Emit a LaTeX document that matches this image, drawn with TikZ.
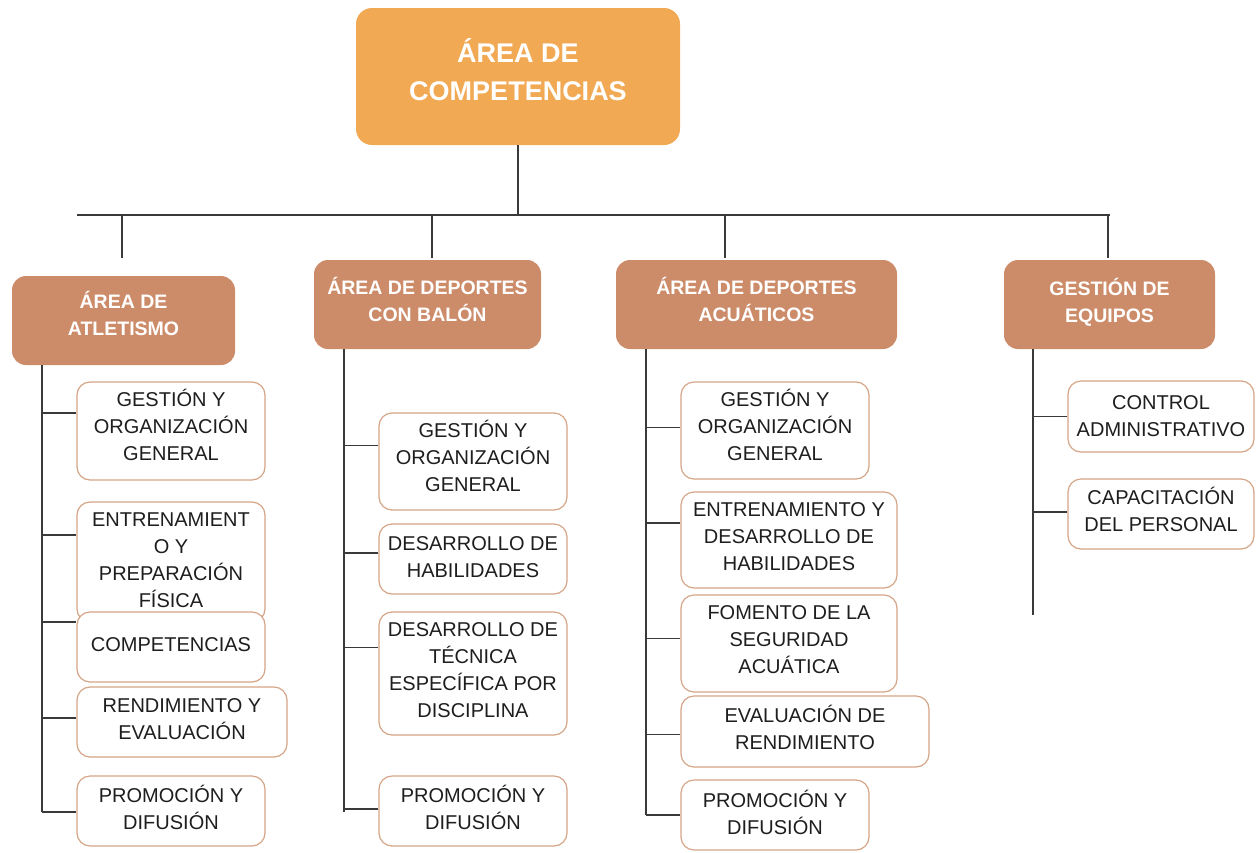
\documentclass[tikz,border=0pt]{standalone}
\usepackage{fontspec}
\setmainfont{Liberation Sans}
\definecolor{topc}{HTML}{F2A954}
\definecolor{headc}{HTML}{CD8C69}
\definecolor{bordc}{HTML}{D6A486}
\definecolor{linec}{HTML}{3A3A3A}
\definecolor{textc}{HTML}{1E1E1E}
\newcommand\liftby[1]{\rule[-#1pt]{0pt}{#1pt}}
\begin{document}
\begin{tikzpicture}[x=1pt,y=-1pt,
  topbox/.style={fill=topc, rounded corners=16pt, text=white, font=\fontsize{27}{38}\selectfont\bfseries, align=center, inner sep=0pt},
  headbox/.style={fill=headc, rounded corners=14pt, text=white, font=\fontsize{19.5}{27}\selectfont\bfseries, align=center, inner sep=0pt, minimum height=89pt},
  childbox/.style={draw=bordc, line width=1.2pt, fill=white, rounded corners=13pt, text=textc, font=\fontsize{20}{27}\selectfont, align=center, inner sep=0pt},
  link/.style={draw=linec, line width=1.6pt}]
\useasboundingbox (0,0) rectangle (1256,852);

% top
\node[topbox, minimum width=324pt, minimum height=137pt] (top) at (518,76.5) {ÁREA DE\\COMPETENCIAS\liftby{14}};

% headers
\node[headbox, minimum width=223pt] (h1) at (123.5,320.5) {ÁREA DE\\ATLETISMO\liftby{14}};
\node[headbox, minimum width=227pt] (h2) at (427.5,304.5) {ÁREA DE DEPORTES\\CON BALÓN\liftby{10}};
\node[headbox, minimum width=281pt] (h3) at (756.5,304.5) {ÁREA DE DEPORTES\\ACUÁTICOS\liftby{10}};
\node[headbox, minimum width=211pt] (h4) at (1109.5,304.5) {GESTIÓN DE\\EQUIPOS\liftby{8}};

% bus
\coordinate (busL) at (77,215);
\coordinate (busR) at (1110,215);
\draw[link] (top.south) -- (top.south |- busL);
\draw[link] (busL) -- (busR);
\draw[link] ([xshift=-1.5pt]h1.north |- busL) -- ([xshift=-1.5pt,yshift=18pt]h1.north);
\draw[link] ([xshift=4.5pt]h2.north |- busL) -- ([xshift=4.5pt,yshift=2pt]h2.north);
\draw[link] ([xshift=-31.5pt]h3.north |- busL) -- ([xshift=-31.5pt,yshift=2pt]h3.north);
\draw[link] ([xshift=-1.5pt]h4.north |- busL) -- ([xshift=-1.5pt,yshift=2pt]h4.north);

% trunks
\coordinate (t1) at (42,812);
\coordinate (t2) at (344,812);
\coordinate (t3) at (646,815);
\coordinate (t4) at (1033,615);
\draw[link] (h1.south -| t1) -- (t1);
\draw[link] (h2.south -| t2) -- (t2);
\draw[link] (h3.south -| t3) -- (t3);
\draw[link] (h4.south -| t4) -- (t4);

% column 1
\node[childbox, minimum width=188pt, minimum height=98pt] (b11) at (171,431) {GESTIÓN Y\\ORGANIZACIÓN\\GENERAL\liftby{12}};
\node[childbox, minimum width=188pt, minimum height=120pt] (b12) at (171,562) {ENTRENAMIENT\\O Y\\PREPARACIÓN\\FÍSICA\liftby{4}};
\node[childbox, minimum width=188pt, minimum height=70pt] (b13) at (171,647) {COMPETENCIAS\liftby{4}};
\node[childbox, minimum width=210pt, minimum height=70pt] (b14) at (182,722) {RENDIMIENTO Y\\EVALUACIÓN\liftby{6}};
\node[childbox, minimum width=188pt, minimum height=70pt] (b15) at (171,811) {PROMOCIÓN Y\\DIFUSIÓN\liftby{8}};
\draw[link] ([yshift=18pt]b11.west) -- ([yshift=18pt]b11.west -| t1);
\draw[link] ([yshift=27pt]b12.west) -- ([yshift=27pt]b12.west -| t1);
\draw[link] ([yshift=25pt]b13.west) -- ([yshift=25pt]b13.west -| t1);
\draw[link] ([yshift=4pt]b14.west) -- ([yshift=4pt]b14.west -| t1);
\draw[link] ([yshift=-1pt]b15.west) -- ([yshift=-1pt]b15.west -| t1);

% column 2
\node[childbox, minimum width=188pt, minimum height=97pt] (b21) at (473,461.5) {GESTIÓN Y\\ORGANIZACIÓN\\GENERAL\liftby{12}};
\node[childbox, minimum width=188pt, minimum height=70pt] (b22) at (473,559) {DESARROLLO DE\\HABILIDADES\liftby{4}};
\node[childbox, minimum width=188pt, minimum height=123pt] (b23) at (473,673.5) {DESARROLLO DE\\TÉCNICA\\ESPECÍFICA POR\\DISCIPLINA\liftby{6}};
\node[childbox, minimum width=188pt, minimum height=70pt] (b24) at (473,811) {PROMOCIÓN Y\\DIFUSIÓN\liftby{8}};
\draw[link] ([yshift=16pt]b21.west) -- ([yshift=16pt]b21.west -| t2);
\draw[link] ([yshift=6pt]b22.west) -- ([yshift=6pt]b22.west -| t2);
\draw[link] ([yshift=26pt]b23.west) -- ([yshift=26pt]b23.west -| t2);
\draw[link] ([yshift=2pt]b24.west) -- ([yshift=2pt]b24.west -| t2);

% column 3
\node[childbox, minimum width=188pt, minimum height=97pt] (b31) at (775,430.5) {GESTIÓN Y\\ORGANIZACIÓN\\GENERAL\liftby{12}};
\node[childbox, minimum width=216pt, minimum height=96pt] (b32) at (789,540) {ENTRENAMIENTO Y\\DESARROLLO DE\\HABILIDADES\liftby{6}};
\node[childbox, minimum width=216pt, minimum height=97pt] (b33) at (789,643.5) {FOMENTO DE LA\\SEGURIDAD\\ACUÁTICA\liftby{8}};
\node[childbox, minimum width=248pt, minimum height=71pt] (b34) at (805,731.5) {EVALUACIÓN DE\\RENDIMIENTO\liftby{8}};
\node[childbox, minimum width=188pt, minimum height=70pt] (b35) at (775,815) {PROMOCIÓN Y\\DIFUSIÓN\liftby{6}};
\draw[link] ([yshift=3pt]b31.west) -- ([yshift=3pt]b31.west -| t3);
\draw[link] ([yshift=17pt]b32.west) -- ([yshift=17pt]b32.west -| t3);
\draw[link] ([yshift=5pt]b33.west) -- ([yshift=5pt]b33.west -| t3);
\draw[link] ([yshift=-3pt]b34.west) -- ([yshift=-3pt]b34.west -| t3);
\draw[link] (b35.west) -- (b35.west -| t3);

% column 4
\node[childbox, minimum width=186pt, minimum height=71pt] (b41) at (1161,416.5) {CONTROL\\ADMINISTRATIVO};
\node[childbox, minimum width=186pt, minimum height=70pt] (b42) at (1161,514) {CAPACITACIÓN\\DEL PERSONAL\liftby{10}};
\draw[link] (b41.west) -- (b41.west -| t4);
\draw[link] ([yshift=2pt]b42.west) -- ([yshift=2pt]b42.west -| t4);
\end{tikzpicture}
\end{document}
